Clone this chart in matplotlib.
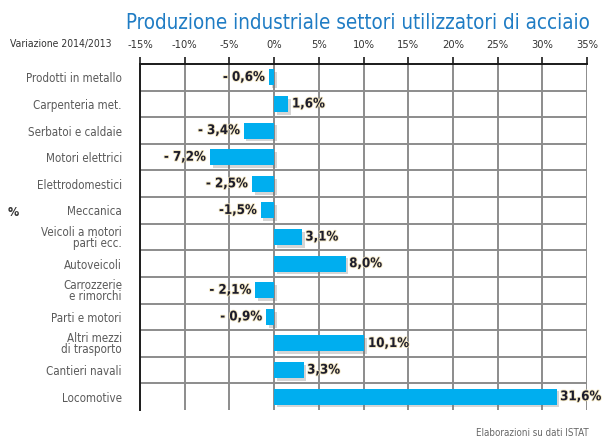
import matplotlib
matplotlib.use("Agg")
import matplotlib.pyplot as plt
import matplotlib.patheffects as pe
import numpy as np

# data
categories = ['Prodotti in metallo', 'Carpenteria met.', 'Serbatoi e caldaie',
              'Motori elettrici', 'Elettrodomestici', 'Meccanica',
              'Veicoli a motori\nparti ecc.', 'Autoveicoli',
              'Carrozzerie\ne rimorchi', 'Parti e motori',
              'Altri mezzi\ndi trasporto', 'Cantieri navali', 'Locomotive']
values = [-0.6, 1.6, -3.4, -7.2, -2.5, -1.5, 3.1, 8.0, -2.1, -0.9, 10.1, 3.3, 31.6]
value_labels = ['- 0,6%', '1,6%', '- 3,4%', '- 7,2%', '- 2,5%', '-1,5%', '3,1%',
                '8,0%', '- 2,1%', '- 0,9%', '10,1%', '3,3%', '31,6%']
xticks = [-15, -10, -5, 0, 5, 10, 15, 20, 25, 30, 35]

plt.rcParams['font.family'] = ['DejaVu Sans']
plt.rcParams['font.stretch'] = 'condensed'

fig = plt.figure(figsize=(6.16, 4.36), dpi=100)
ax = fig.add_axes([0.2273, 0.0596, 0.7256, 0.7936])

y = np.arange(len(categories))
shadow = [pe.SimplePatchShadow(offset=(2, -2), shadow_rgbFace='#777777', alpha=0.3), pe.Normal()]
ax.barh(y, values, height=0.6, color='#00aeef', zorder=3, path_effects=shadow)

glow = [pe.withStroke(linewidth=1.2, foreground='#f1e4bc')]
for i, (v, lab) in enumerate(zip(values, value_labels)):
    if v >= 0:
        ax.text(v + 0.4, i, lab, ha='left', va='center', fontsize=9.5, fontweight='bold',
                color='#1c1c2c', zorder=4, path_effects=glow)
    else:
        ax.text(v - 0.4, i, lab, ha='right', va='center', fontsize=9.5, fontweight='bold',
                color='#1c1c2c', zorder=4, path_effects=glow)

ax.set_xlim(-15, 35)
ax.set_ylim(len(categories) - 0.5, -0.5)

# grid
for x in xticks[1:]:
    ax.axvline(x, color='#8c8c8c', lw=1.4, zorder=1)
for b in np.arange(0.5, len(categories) - 1, 1.0):
    ax.axhline(b, color='#8c8c8c', lw=1.4, zorder=1)

for s in ['right', 'bottom']:
    ax.spines[s].set_visible(False)
ax.spines['top'].set_color('#1a1a1a')
ax.spines['top'].set_linewidth(1.4)
ax.spines['left'].set_color('#1a1a1a')
ax.spines['left'].set_linewidth(1.4)

ax.xaxis.tick_top()
ax.set_xticks(xticks)
ax.set_xticklabels([f'{t}%' for t in xticks], fontsize=8, color='#333333')
ax.tick_params(axis='x', direction='out', length=5, width=1.2, color='#1a1a1a', pad=5)

ax.set_yticks(y)
ax.set_yticklabels(categories, fontsize=8.3, color='#5a5a5a', linespacing=0.85)
ax.tick_params(axis='y', length=0, pad=13)

fig.text(0.958, 0.948, 'Produzione industriale settori utilizzatori di acciaio',
         ha='right', va='center', fontsize=14.8, color='#1f7cc4')
fig.text(0.016, 0.899, 'Variazione 2014/2013', ha='left', va='center',
         fontsize=7.5, color='#333333')
fig.text(0.955, 0.008, 'Elaborazioni su dati ISTAT', ha='right', va='center',
         fontsize=7, color='#666666')
fig.text(0.012, 0.513, '%', ha='left', va='center', fontsize=9,
         fontweight='bold', color='#333333')

fig.savefig('out.png', dpi=100)
